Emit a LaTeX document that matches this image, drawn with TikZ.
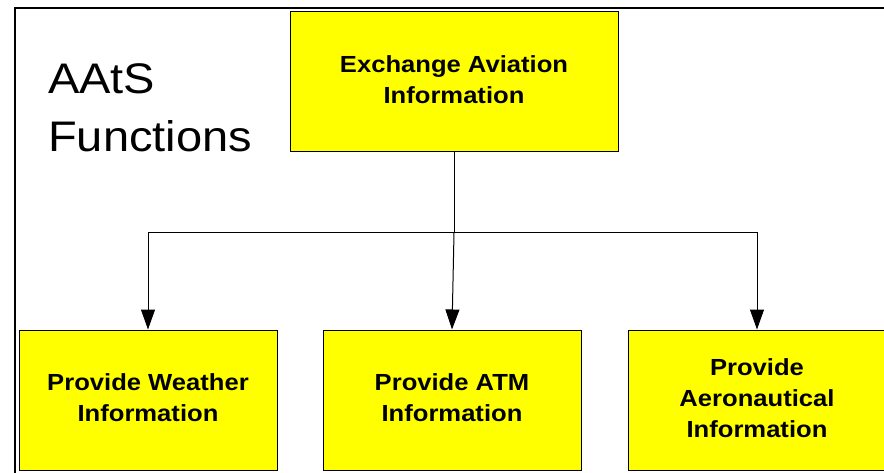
\documentclass[tikz,border=0pt]{standalone}
\usepackage{fontspec}
\setmainfont{Liberation Sans}
\usetikzlibrary{arrows.meta}
\definecolor{boxyellow}{HTML}{FFFF00}
\newcommand\mylines[1]{\scalebox{1}[0.91]{\begin{tabular}{@{}c@{}}#1\end{tabular}}}
\begin{document}
\begin{tikzpicture}[x=1pt,y=-1pt,
  box/.style={draw=black, line width=1pt, fill=boxyellow, minimum width=258pt,
    minimum height=140pt, inner sep=0pt,
    font=\fontsize{25.6}{34}\selectfont\bfseries},
  conn/.style={line width=1pt, draw=black},
  arr/.style={conn, -{Triangle[length=20pt,width=14pt]}}]
\clip (0,0) rectangle (884,473);
\fill[white] (0,0) rectangle (884,473);
% outer frame
\draw[line width=2pt] (15,8) rectangle (910,500);
% title
\node[anchor=base west, inner sep=0pt, font=\fontsize{47}{63.7}\selectfont] (title) at (48,94)
  {\scalebox{1}[0.91]{\begin{tabular}[t]{@{}l@{}}AAtS\\Functions\end{tabular}}};
% boxes
\node[box, minimum width=328pt] (top) at (454,82) {\mylines{Exchange Aviation\\Information}};
\node[box] (weather) at (148,400) {\mylines{Provide Weather\\Information}};
\node[box] (atm) at (452,400) {\mylines{Provide ATM\\Information}};
\node[box] (aero) at (757,400) {\mylines{Provide\\Aeronautical\\Information}};
% connectors
\coordinate (j) at (454,233);
\draw[conn] (top.south) -- (j);
\draw[arr] (j) -| (weather.north);
\draw[arr] (j) -| (aero.north);
\draw[arr] (j) -- (atm.north);
\end{tikzpicture}
\end{document}
